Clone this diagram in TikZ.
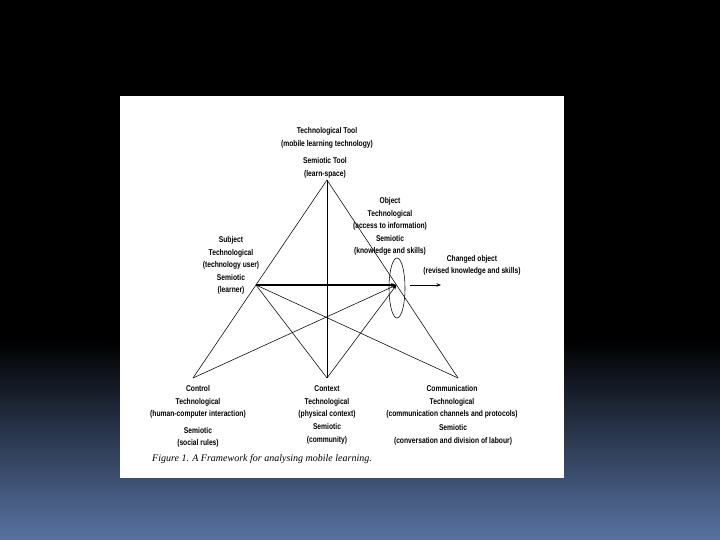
\documentclass[tikz,border=0pt]{standalone}
\usepackage{fontspec}
\setmainfont{Liberation Serif}
\newfontfamily\labfont[FakeStretch=0.8]{Liberation Sans}
\usetikzlibrary{arrows.meta}
\definecolor{bgblue}{RGB}{88,115,162}
\tikzset{
  lab/.style={font=\labfont\bfseries\fontsize{8.4}{12.5}\selectfont, inner sep=0pt, align=center},
  edge/.style={line width=0.55pt, black},
  arr/.style={edge, -{Stealth[length=4.5pt,width=3.5pt]}}
}
\begin{document}
\begin{tikzpicture}[x=1pt,y=-1pt]
\useasboundingbox (0,0) rectangle (720,540);
\fill[black] (0,0) rectangle (720,341);
\shade[top color=black, bottom color=bgblue] (0,340) rectangle (720,540);
\fill[white] (120,96) rectangle (564,478);
% points
\coordinate (T) at (327,180);
\coordinate (S) at (256,285);
\coordinate (O) at (396.5,285);
\coordinate (Cl) at (193,378);
\coordinate (Cx) at (327,378);
\coordinate (Cm) at (458,378);
\coordinate (ch1) at (410,285);
\coordinate (ch2) at (441,285);
% connectors
\draw[edge] (T) -- (Cl);
\draw[edge] (T) -- (Cm);
\draw[edge] (T) -- (Cx);
\draw[edge] (S) -- (Cx);
\draw[edge] (S) -- (Cm);
\draw[arr] (Cl) -- (O);
\draw[arr] (Cx) -- (O);
\draw[line width=1.1pt, -{Stealth[length=5.5pt,width=4pt]}] (S) -- (O);
\draw[edge] (397,288) ellipse [x radius=8, y radius=30];
\draw[arr] (ch1) -- (ch2);
% labels
\node[lab] (tool) at (327,138) {Technological Tool\\(mobile learning technology)};
\node[lab] (stool) at (325,168) {Semiotic Tool\\(learn-space)};
\node[lab] (obj) at (390,226.5) {Object\\Technological\\(access to information)\\Semiotic\\(knowledge and skills)};
\node[lab] (subj) at (231,265.5) {Subject\\Technological\\(technology user)\\Semiotic\\(learner)};
\node[lab] (chg) at (472,265.5) {Changed object\\(revised knowledge and skills)};
\node[lab] (ctl) at (198,402) {Control\\Technological\\(human-computer interaction)};
\node[lab] (ctls) at (198,437.5) {Semiotic\\(social rules)};
\node[lab] (ctx) at (327,402) {Context\\Technological\\(physical context)};
\node[lab] (ctxs) at (327,434) {Semiotic\\(community)};
\node[lab] (com) at (452,402) {Communication\\Technological\\(communication channels and protocols)};
\node[lab] (coms) at (453,435) {Semiotic\\(conversation and division of labour)};
\node[font=\itshape\fontsize{10}{11}\selectfont, inner sep=0pt, anchor=west] (cap) at (152,459) {Figure 1. A Framework for analysing mobile learning.};
\end{tikzpicture}
\end{document}
